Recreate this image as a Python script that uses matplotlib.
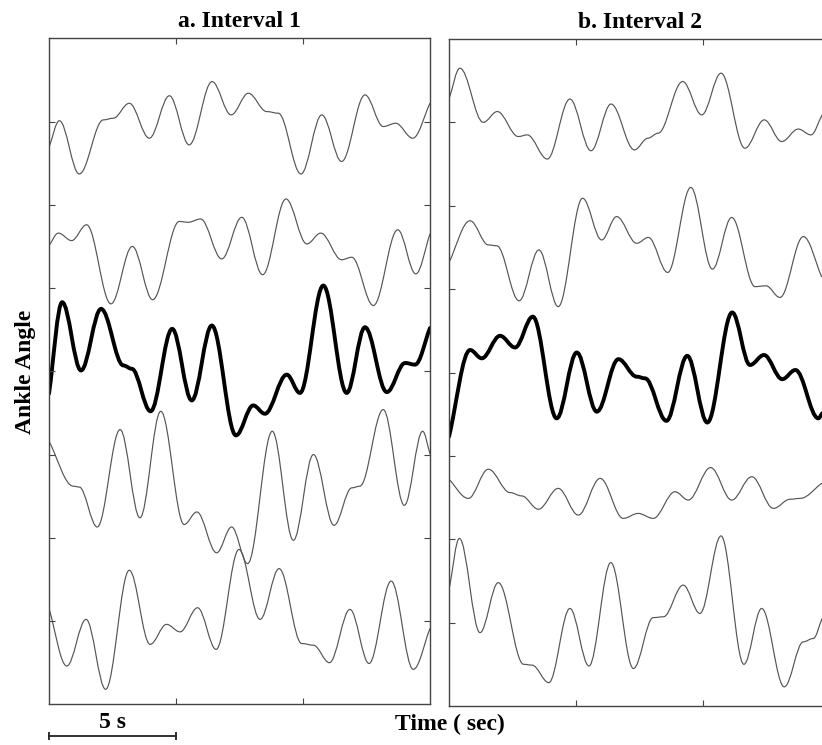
import numpy as np
import matplotlib.pyplot as plt
from matplotlib.path import Path
from matplotlib.patches import PathPatch
from matplotlib.transforms import blended_transform_factory

# readings: time (s) and vertical position (tick units) of peaks, troughs and shoulders
a1_t = [0, 0.41, 1.19, 2.14, 2.53, 3.16, 3.95, 4.74, 5.52, 6.42, 7.17, 7.85, 8.57, 9.03, 9.92, 10.74, 11.52, 12.44, 13.16, 13.65, 14.32, 15.0]
a1_y = [6.69, 7.01, 6.37, 7.02, 7.04, 7.22, 6.80, 7.31, 6.72, 7.48, 7.08, 7.34, 7.12, 7.10, 6.37, 7.08, 6.52, 7.32, 6.94, 6.98, 6.80, 7.22]

a2_t = [0, 0.37, 0.89, 1.48, 2.44, 3.28, 4.08, 5.13, 5.48, 5.97, 6.80, 7.59, 8.41, 9.33, 10.15, 10.70, 11.52, 11.92, 12.77, 13.73, 14.44, 15.0]
a2_y = [5.51, 5.66, 5.57, 5.76, 4.81, 5.50, 4.86, 5.80, 5.79, 5.83, 5.35, 5.85, 5.16, 6.07, 5.53, 5.66, 5.34, 5.37, 4.79, 5.70, 5.17, 5.65]

a3_t = [0, 0.52, 1.26, 2.05, 2.93, 3.26, 4.00, 4.85, 5.62, 6.41, 7.36, 8.04, 8.50, 9.36, 9.88, 10.80, 11.72, 12.44, 13.30, 14.02, 14.41, 15.0]
a3_y = [3.73, 4.83, 4.01, 4.75, 4.07, 4.03, 3.52, 4.51, 3.65, 4.55, 3.23, 3.59, 3.49, 3.96, 3.74, 5.03, 3.74, 4.53, 3.75, 4.10, 4.08, 4.52]

a4_t = [0, 0.96, 1.19, 1.90, 2.80, 3.58, 4.40, 5.32, 5.82, 6.60, 7.19, 7.82, 8.79, 9.62, 10.41, 11.22, 11.92, 12.24, 13.16, 13.99, 14.71, 15.0]
a4_y = [3.16, 2.62, 2.61, 2.13, 3.30, 2.24, 3.52, 2.16, 2.31, 1.82, 2.13, 1.69, 3.28, 1.97, 3.00, 2.15, 2.60, 2.62, 3.54, 2.39, 3.28, 3.01]

a5_t = [0, 0.70, 1.46, 2.23, 3.16, 3.98, 4.63, 5.16, 5.85, 6.58, 7.48, 8.31, 9.06, 9.95, 10.41, 11.04, 11.85, 12.60, 13.47, 14.34, 15.0]
a5_y = [1.15, 0.46, 1.02, 0.18, 1.61, 0.72, 0.96, 0.87, 1.16, 0.66, 1.86, 1.02, 1.63, 0.73, 0.71, 0.50, 1.14, 0.49, 1.48, 0.42, 0.91]

b1_t = [0, 0.43, 1.35, 1.90, 2.73, 3.08, 3.87, 4.76, 5.59, 6.38, 7.30, 7.83, 8.23, 9.20, 9.95, 10.71, 11.65, 12.41, 13.10, 13.75, 14.25, 14.69]
b1_y = [7.28, 7.65, 7.00, 7.13, 6.83, 6.85, 6.56, 7.28, 6.66, 7.22, 6.67, 6.81, 6.87, 7.49, 7.09, 7.59, 6.69, 7.03, 6.77, 6.92, 6.85, 7.09]

b2_t = [0, 0.83, 1.55, 1.88, 2.76, 3.54, 4.30, 5.26, 6.01, 6.60, 7.39, 7.85, 8.61, 9.52, 10.37, 11.13, 12.05, 12.48, 13.03, 13.95, 14.67]
b2_y = [5.32, 5.82, 5.53, 5.52, 4.86, 5.47, 4.79, 6.09, 5.59, 5.87, 5.55, 5.62, 5.20, 6.22, 5.24, 5.86, 5.03, 5.04, 4.90, 5.63, 5.15]

b3_t = [0, 0.83, 1.29, 2.01, 2.60, 3.30, 4.24, 5.03, 5.82, 6.67, 7.39, 7.72, 8.56, 9.38, 10.17, 11.15, 11.85, 12.40, 13.12, 13.64, 14.54, 14.69]
b3_y = [3.23, 4.27, 4.17, 4.44, 4.30, 4.67, 3.45, 4.24, 3.53, 4.16, 3.95, 3.93, 3.42, 4.20, 3.40, 4.72, 4.09, 4.21, 3.92, 4.03, 3.45, 3.51]

b4_t = [0, 0.76, 1.55, 2.40, 2.86, 3.52, 4.30, 5.09, 5.95, 6.86, 7.45, 8.04, 8.90, 9.42, 10.30, 11.13, 11.92, 12.77, 13.43, 13.82, 14.67]
b4_y = [2.72, 2.49, 2.84, 2.56, 2.52, 2.36, 2.61, 2.29, 2.73, 2.25, 2.31, 2.25, 2.57, 2.47, 2.86, 2.47, 2.75, 2.37, 2.48, 2.49, 2.67]

b5_t = [0, 0.41, 1.22, 1.94, 2.94, 3.27, 3.93, 4.76, 5.51, 6.37, 7.26, 8.04, 8.44, 9.22, 9.88, 10.71, 11.61, 12.31, 13.20, 13.95, 14.34, 14.69]
b5_y = [1.39, 2.01, 0.88, 1.48, 0.50, 0.49, 0.28, 1.17, 0.48, 1.72, 0.45, 1.06, 1.07, 1.45, 1.11, 2.04, 0.50, 1.17, 0.23, 0.77, 0.81, 1.05]

thin = '#555555'
serif = {'family': 'Liberation Serif', 'weight': 'bold', 'size': 17}


def trace(ax, t, y, lw, color, k=0.36):
    # smooth curve through the read extrema (flat tangent at each one)
    n = len(t)
    verts = [(t[0], y[0])]
    codes = [Path.MOVETO]
    for i in range(n - 1):
        dt = t[i + 1] - t[i]
        dy = y[i + 1] - y[i]
        c1 = (t[i] + k * dt, y[i] + (k * dy if i == 0 else 0))
        c2 = (t[i + 1] - k * dt, y[i + 1] - (k * dy if i + 1 == n - 1 else 0))
        verts += [c1, c2, (t[i + 1], y[i + 1])]
        codes += [Path.CURVE4] * 3
    ax.add_patch(PathPatch(Path(verts, codes), fill=False, lw=lw, edgecolor=color,
                           capstyle='round', joinstyle='round'))


fig = plt.figure(figsize=(8.22, 7.45), dpi=100)
ax1 = fig.add_axes([49 / 822, 40.7 / 745, 381 / 822, 666 / 745])
ax2 = fig.add_axes([449 / 822, 39 / 745, 381 / 822, 667 / 745])

for ax, title in [(ax1, 'a. Interval 1'), (ax2, 'b. Interval 2')]:
    ax.set_xlim(0, 15)
    ax.set_ylim(0, 8)
    ax.set_xticks([5, 10])
    ax.set_yticks(range(1, 8))
    ax.tick_params(direction='in', top=True, right=True, length=4, width=0.8, color='#444444',
                   labelbottom=False, labelleft=False)
    for s in ax.spines.values():
        s.set_color('#444444')
        s.set_linewidth(1.0)
    ax.set_title(title, fontdict=serif, pad=8)

trace(ax1, a1_t, a1_y, 0.85, thin)
trace(ax1, a2_t, a2_y, 0.85, thin)
trace(ax1, a3_t, a3_y, 2.8, 'black')
trace(ax1, a4_t, a4_y, 0.85, thin)
trace(ax1, a5_t, a5_y, 0.85, thin)

trace(ax2, b1_t, b1_y, 0.85, thin)
trace(ax2, b2_t, b2_y, 0.85, thin)
trace(ax2, b3_t, b3_y, 2.8, 'black')
trace(ax2, b4_t, b4_y, 0.85, thin)
trace(ax2, b5_t, b5_y, 0.85, thin)

# 5 s scale bar under the left panel
tr = blended_transform_factory(ax1.transData, ax1.transAxes)
ax1.plot([0, 5], [-0.048, -0.048], transform=tr, clip_on=False, color='#222222', lw=1.3,
         marker='|', markersize=6, markeredgewidth=1.3)
ax1.text(2.5, -0.027, '5 s', transform=tr, ha='center', va='center', fontdict=serif)

fig.text(25 / 822, 1 - 372 / 745, 'Ankle Angle', rotation=90, ha='center', va='center', fontdict=serif)
fig.text(450 / 822, 1 - 724 / 745, 'Time ( sec)', ha='center', va='center', fontdict=serif)

fig.savefig('out.png', dpi=100)
